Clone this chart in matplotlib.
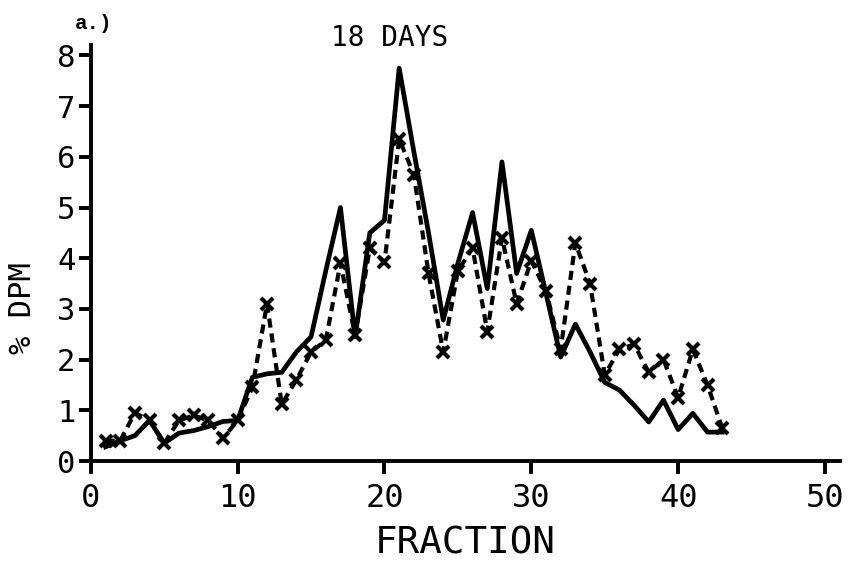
import matplotlib
matplotlib.use("Agg")
import matplotlib.pyplot as plt

plt.rcParams['font.family'] = ['DejaVu Sans Mono', 'DejaVu Sans']

# fraction number and % DPM for the two runs
fraction = list(range(1, 44))
dpm_solid = [0.28, 0.40, 0.50, 0.80, 0.35, 0.55, 0.60, 0.68, 0.78, 0.80,
             1.65, 1.72, 1.75, 2.15, 2.45, 3.75, 5.00, 2.45, 4.50, 4.75,
             7.75, 6.10, 4.50, 2.78, 3.90, 4.90, 3.40, 5.90, 3.70, 4.55,
             3.30, 2.05, 2.70, 2.15, 1.55, 1.40, 1.10, 0.77, 1.20, 0.62,
             0.94, 0.57, 0.57]
dpm_dashed = [0.40, 0.40, 0.95, 0.80, 0.35, 0.80, 0.90, 0.80, 0.45, 0.80,
              1.45, 3.10, 1.12, 1.60, 2.15, 2.38, 3.90, 2.48, 4.20, 3.92,
              6.35, 5.65, 3.70, 2.15, 3.75, 4.20, 2.55, 4.40, 3.10, 3.95,
              3.35, 2.20, 4.30, 3.50, 1.70, 2.20, 2.30, 1.75, 2.00, 1.25,
              2.20, 1.50, 0.65]

xticks = [0, 10, 20, 30, 40, 50]
yticks = [0, 1, 2, 3, 4, 5, 6, 7, 8]

fig = plt.figure(figsize=(8.49, 5.66), dpi=100)
ax = fig.add_axes([0.107, 0.1855, 0.882, 0.7345])

ax.plot(fraction, dpm_solid, color='black', lw=3.4, solid_joinstyle='round')
ax.plot(fraction, dpm_dashed, color='black', lw=3.0, dashes=(2.2, 1.4),
        marker='x', markersize=8, markeredgewidth=3.0)

ax.set_xlim(0, 51)
ax.set_ylim(0, 8.2)
ax.set_xticks(xticks)
ax.set_yticks(yticks)

for s in ['top', 'right']:
    ax.spines[s].set_visible(False)
for s in ['left', 'bottom']:
    ax.spines[s].set_linewidth(2.8)

ax.tick_params(axis='both', direction='out', length=9, width=2.8,
               labelsize=22, pad=2)
ax.tick_params(axis='x', labelsize=23, pad=7)

ax.set_xlabel("FRACTION", fontsize=27, labelpad=8)
# y label sits lower than the axis centre in the original
fig.text(0.026, 0.456, "% DPM", fontsize=22, rotation=90,
         ha='center', va='center')

fig.text(0.459, 0.933, "18 DAYS", fontsize=20, ha='center', va='center')
fig.text(0.088, 0.958, "a.)", fontsize=15, fontweight='bold',
         family='Liberation Mono', ha='left', va='center')

fig.savefig("out.png", dpi=100)
